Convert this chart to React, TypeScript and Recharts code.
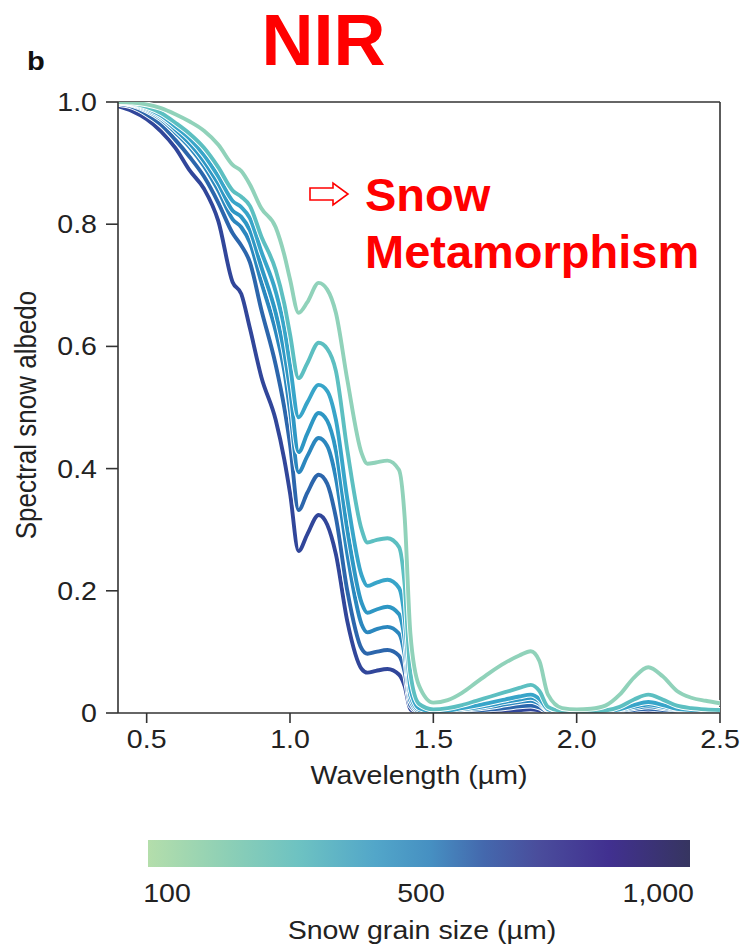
import React from 'react';
import { LineChart, Line, XAxis, YAxis, ReferenceLine } from 'recharts';

const wavelengths = [0.40,0.45,0.50,0.55,0.60,0.65,0.70,0.75,0.80,0.83,0.86,0.90,0.95,0.98,1.00,1.03,1.06,1.10,1.13,1.16,1.20,1.25,1.27,1.30,1.34,1.38,1.40,1.42,1.45,1.50,1.55,1.60,1.65,1.70,1.75,1.80,1.84,1.87,1.90,1.95,2.00,2.05,2.10,2.15,2.20,2.25,2.30,2.35,2.40,2.45,2.50];

const grainSizes = [100, 200, 300, 400, 500, 750, 1000];

const albedo100 = [1.000,0.999,0.996,0.990,0.980,0.968,0.953,0.930,0.897,0.887,0.865,0.826,0.795,0.750,0.710,0.655,0.672,0.704,0.693,0.655,0.545,0.425,0.408,0.410,0.413,0.398,0.320,0.130,0.045,0.017,0.021,0.033,0.050,0.067,0.082,0.094,0.101,0.085,0.030,0.008,0.006,0.007,0.012,0.030,0.058,0.075,0.060,0.036,0.025,0.020,0.016];
const albedo200 = [1.000,0.998,0.992,0.982,0.966,0.948,0.925,0.893,0.855,0.845,0.830,0.780,0.725,0.670,0.620,0.548,0.572,0.606,0.596,0.560,0.430,0.300,0.279,0.283,0.286,0.272,0.210,0.065,0.015,0.006,0.008,0.013,0.020,0.027,0.034,0.041,0.046,0.036,0.010,0.003,0.002,0.003,0.004,0.010,0.022,0.030,0.022,0.012,0.008,0.006,0.005];
const albedo300 = [1.000,0.997,0.990,0.978,0.960,0.940,0.913,0.878,0.838,0.828,0.810,0.755,0.690,0.630,0.570,0.484,0.508,0.537,0.527,0.480,0.350,0.225,0.208,0.213,0.218,0.205,0.155,0.040,0.008,0.003,0.004,0.008,0.012,0.017,0.022,0.027,0.030,0.023,0.006,0.002,0.001,0.002,0.003,0.006,0.013,0.018,0.013,0.007,0.005,0.004,0.003];
const albedo400 = [0.999,0.996,0.988,0.975,0.955,0.932,0.903,0.866,0.822,0.812,0.790,0.730,0.655,0.590,0.530,0.427,0.457,0.491,0.478,0.430,0.300,0.180,0.164,0.169,0.174,0.162,0.120,0.028,0.005,0.002,0.003,0.006,0.009,0.013,0.018,0.022,0.025,0.019,0.005,0.001,0.001,0.001,0.002,0.005,0.010,0.014,0.010,0.006,0.004,0.003,0.002];
const albedo500 = [0.999,0.995,0.986,0.972,0.950,0.926,0.895,0.855,0.808,0.795,0.770,0.705,0.625,0.560,0.495,0.394,0.420,0.450,0.437,0.385,0.260,0.145,0.132,0.137,0.141,0.130,0.095,0.020,0.003,0.001,0.002,0.005,0.007,0.010,0.014,0.018,0.020,0.015,0.004,0.001,0.001,0.001,0.002,0.004,0.008,0.011,0.008,0.005,0.003,0.002,0.002];
const albedo750 = [0.997,0.992,0.980,0.963,0.938,0.910,0.878,0.835,0.785,0.765,0.738,0.660,0.570,0.500,0.440,0.332,0.360,0.390,0.375,0.320,0.200,0.105,0.097,0.100,0.103,0.094,0.067,0.012,0.002,0.001,0.001,0.003,0.004,0.006,0.008,0.011,0.012,0.009,0.002,0.001,0.000,0.001,0.001,0.002,0.005,0.007,0.005,0.003,0.002,0.001,0.001];
const albedo1000 = [0.993,0.985,0.972,0.952,0.925,0.888,0.858,0.805,0.705,0.686,0.630,0.550,0.480,0.415,0.360,0.265,0.292,0.324,0.308,0.260,0.150,0.072,0.066,0.069,0.072,0.063,0.044,0.006,0.001,0.000,0.001,0.001,0.002,0.003,0.004,0.005,0.006,0.004,0.001,0.000,0.000,0.000,0.001,0.001,0.002,0.003,0.002,0.001,0.001,0.000,0.000];

const seriesValues = [albedo100, albedo200, albedo300, albedo400, albedo500, albedo750, albedo1000];
const seriesColors = ['#90d2ba', '#5cbfc1', '#38a5c9', '#2e97c4', '#2b87be', '#2c66ac', '#31469a'];

const xTicks = [0.5, 1.0, 1.5, 2.0, 2.5];
const yTicks = [0, 0.2, 0.4, 0.6, 0.8, 1.0];

const colorbarStops = ['#b4deab', '#8ccfb6', '#6dc2c2', '#52a6c9', '#4690c2', '#4468ad', '#4a4d9c', '#413090', '#363560'];
const colorbarOffsets = [0, 0.15, 0.28, 0.42, 0.52, 0.62, 0.72, 0.85, 1];
const colorbarLabels = ['100', '500', '1,000'];

const rows = wavelengths.map((w, i) => {
  const r: any = { w };
  grainSizes.forEach((g, k) => { r['g' + g] = seriesValues[k][i]; });
  return r;
});

const FONT = '"Liberation Sans", Arial, Helvetica, sans-serif';
const SX = 1.12;
const FS = 25.5;

const XTick = (props: any) => {
  const { x, y, payload } = props;
  return (
    <g transform={`translate(${x},${y})`}>
      <text transform={`scale(${SX},1)`} dy="0.71em" textAnchor="middle" fill="#222" fontSize={FS} fontFamily={FONT}>
        {Number(payload.value).toFixed(1)}
      </text>
    </g>
  );
};

const YTick = (props: any) => {
  const { x, y, payload } = props;
  const v = Number(payload.value);
  return (
    <g transform={`translate(${x},${y})`}>
      <text transform={`scale(${SX},1)`} dy="0.355em" textAnchor="end" fill="#222" fontSize={FS} fontFamily={FONT}>
        {v === 0 ? '0' : v.toFixed(1)}
      </text>
    </g>
  );
};

export default function App() {
  const order = grainSizes.map((g, k) => k).reverse();
  return (
    <div style={{ position: 'absolute', left: 0, top: 0, width: 743, height: 947, background: '#fff', overflow: 'hidden' }}>
      <div style={{ position: 'absolute', left: 0, top: 0 }}>
        <LineChart width={743} height={800} data={rows} margin={{ top: 102, right: 23, left: 58, bottom: 12 }}>
          <XAxis
            dataKey="w"
            type="number"
            domain={[0.4, 2.5]}
            ticks={xTicks}
            allowDataOverflow
            height={75}
            tickSize={10}
            tickMargin={7}
            tick={<XTick />}
            axisLine={{ stroke: '#333', strokeWidth: 1.6 }}
            tickLine={{ stroke: '#333', strokeWidth: 1.6 }}
          />
          <YAxis
            type="number"
            domain={[0, 1]}
            ticks={yTicks}
            allowDataOverflow
            width={60}
            tickSize={12}
            tickMargin={9}
            tick={<YTick />}
            axisLine={{ stroke: '#333', strokeWidth: 1.6 }}
            tickLine={{ stroke: '#333', strokeWidth: 1.6 }}
          />
          <ReferenceLine y={1} stroke="#333" strokeWidth={1.6} />
          <ReferenceLine x={2.5} stroke="#333" strokeWidth={1.6} />
          {order.flatMap((k) => [
            <Line key={'h' + k} dataKey={'g' + grainSizes[k]} type="monotone" stroke="#ffffff" strokeWidth={5.8} dot={false} activeDot={false} isAnimationActive={false} />,
            <Line key={'c' + k} dataKey={'g' + grainSizes[k]} type="monotone" stroke={seriesColors[k]} strokeWidth={3.9} dot={false} activeDot={false} isAnimationActive={false} />,
          ])}
        </LineChart>
      </div>
      <svg width={743} height={947} style={{ position: 'absolute', left: 0, top: 0, pointerEvents: 'none' }}>
        <defs>
          <linearGradient id="cbar" x1="0" x2="1" y1="0" y2="0">
            {colorbarStops.map((c, i) => (
              <stop key={i} offset={colorbarOffsets[i]} stopColor={c} />
            ))}
          </linearGradient>
        </defs>
        <text transform={`translate(27,70) scale(${SX},1)`} fontSize={26} fontWeight="bold" fontFamily={FONT} fill="#111">b</text>
        <text x={323.5} y={65} textAnchor="middle" fontSize={72} fontWeight="bold" fontFamily={FONT} fill="#ff0000">NIR</text>
        <polygon points="310,188 333,188 333,183 348,194 333,205 333,200 310,200" fill="#fff" stroke="#ff0000" strokeWidth={1.6} />
        <text x={365} y={211} fontSize={47} fontWeight="bold" fontFamily={FONT} fill="#ff0000">Snow</text>
        <text x={365} y={268} fontSize={47} fontWeight="bold" fontFamily={FONT} fill="#ff0000">Metamorphism</text>
        <text transform={`translate(36,415) scale(${SX},1) rotate(-90)`} textAnchor="middle" fontSize={26} fontFamily={FONT} fill="#222">Spectral snow albedo</text>
        <text transform={`translate(419,784) scale(${SX},1)`} textAnchor="middle" fontSize={FS} fontFamily={FONT} fill="#222">Wavelength (µm)</text>
        <rect x={148} y={840} width={542} height={27} fill="url(#cbar)" />
        <text transform={`translate(167,902) scale(${SX},1)`} textAnchor="middle" fontSize={FS} fontFamily={FONT} fill="#222">{colorbarLabels[0]}</text>
        <text transform={`translate(421,902) scale(${SX},1)`} textAnchor="middle" fontSize={FS} fontFamily={FONT} fill="#222">{colorbarLabels[1]}</text>
        <text transform={`translate(694,902) scale(${SX},1)`} textAnchor="end" fontSize={FS} fontFamily={FONT} fill="#222">{colorbarLabels[2]}</text>
        <text transform={`translate(422,939) scale(${SX},1)`} textAnchor="middle" fontSize={FS} fontFamily={FONT} fill="#222">Snow grain size (µm)</text>
      </svg>
    </div>
  );
}
